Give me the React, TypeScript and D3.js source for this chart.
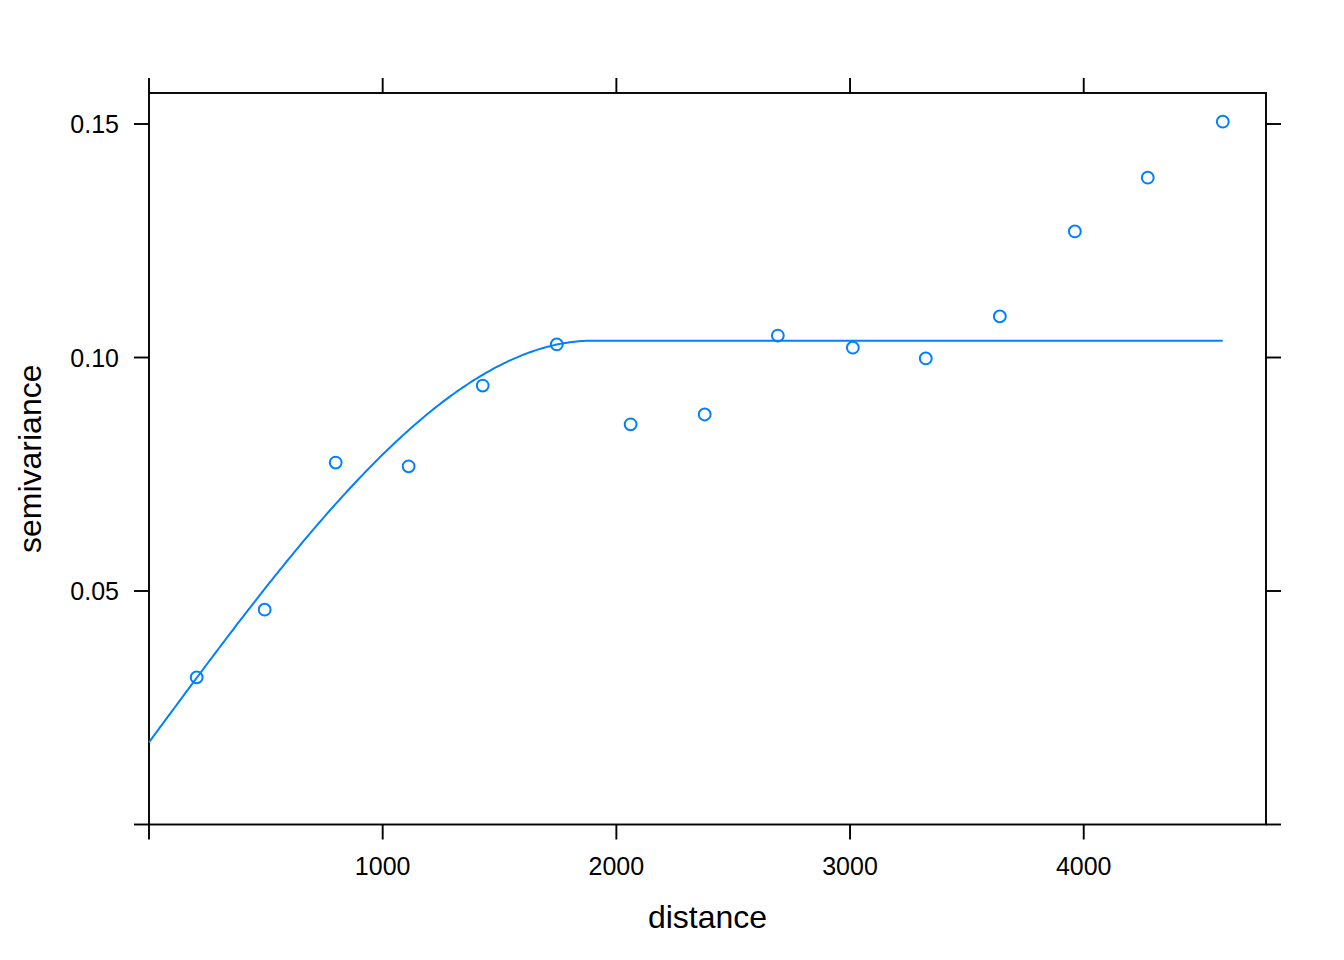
import React from "react";
import * as d3 from "d3";

const distances = [204, 495, 799, 1111, 1428, 1745, 2061, 2378, 2691, 3012, 3324, 3641, 3962, 4274, 4595];
const gammas = [0.0315, 0.0460, 0.0775, 0.0767, 0.0940, 0.1028, 0.0857, 0.0878, 0.1047, 0.1021, 0.0998, 0.1088, 0.1270, 0.1385, 0.1505];

// fitted spherical variogram model
const nugget = 0.0176;
const psill = 0.086;
const modelRange = 1900;

const xTicks = [0, 1000, 2000, 3000, 4000];
const xTickLabels = ["", "1000", "2000", "3000", "4000"];
const yTicks = [0, 0.05, 0.1, 0.15];
const yTickLabels = ["", "0.05", "0.10", "0.15"];

const W = 1344, H = 960;
const L = 149, R = 1266, T = 93, B = 824.5;
const BLUE = "#0080ff";
const FONT = "'Liberation Sans', Arial, Helvetica, sans-serif";

function spherical(h: number) {
  if (h >= modelRange) return nugget + psill;
  const r = h / modelRange;
  return nugget + psill * (1.5 * r - 0.5 * r * r * r);
}

export default function App() {
  const x = d3.scaleLinear().domain([0, 4780]).range([L, R]);
  const y = d3.scaleLinear().domain([0, 0.15664]).range([B, T]);
  const hs = d3.range(0, distances[distances.length - 1], 10).concat([distances[distances.length - 1]]);
  const line = d3.line<number>().x((h) => x(h)).y((h) => y(spherical(h)));
  const tl = 15;
  return (
    <svg width={W} height={H} style={{ position: "absolute", left: 0, top: 0, background: "#fff" }}>
      <rect x={0} y={0} width={W} height={H} fill="#fff" />
      <g stroke="#000" strokeWidth={1.9} fill="none">
        <rect x={L} y={T} width={R - L} height={B - T} />
        {xTicks.map((t, i) => (
          <g key={"x" + i}>
            <line x1={x(t)} x2={x(t)} y1={B} y2={B + tl} />
            <line x1={x(t)} x2={x(t)} y1={T} y2={T - tl} />
          </g>
        ))}
        {yTicks.map((t, i) => (
          <g key={"y" + i}>
            <line x1={L} x2={L - tl} y1={y(t)} y2={y(t)} />
            <line x1={R} x2={R + tl} y1={y(t)} y2={y(t)} />
          </g>
        ))}
      </g>
      <g fontFamily={FONT} fontSize={25} fill="#000">
        {xTicks.map((t, i) => (
          <text key={"xl" + i} x={x(t)} y={875} textAnchor="middle">{xTickLabels[i]}</text>
        ))}
        {yTicks.map((t, i) => (
          <text key={"yl" + i} x={119} y={y(t)} textAnchor="end" dominantBaseline="central">{yTickLabels[i]}</text>
        ))}
      </g>
      <text x={(L + R) / 2} y={928} textAnchor="middle" fontFamily={FONT} fontSize={32}>distance</text>
      <text transform={`translate(41,${(T + B) / 2}) rotate(-90)`} textAnchor="middle" fontFamily={FONT} fontSize={32}>semivariance</text>
      <path d={line(hs) || ""} fill="none" stroke={BLUE} strokeWidth={2} />
      {distances.map((d, i) => (
        <circle key={"p" + i} cx={x(d)} cy={y(gammas[i])} r={5.9} fill="none" stroke={BLUE} strokeWidth={2} />
      ))}
    </svg>
  );
}
